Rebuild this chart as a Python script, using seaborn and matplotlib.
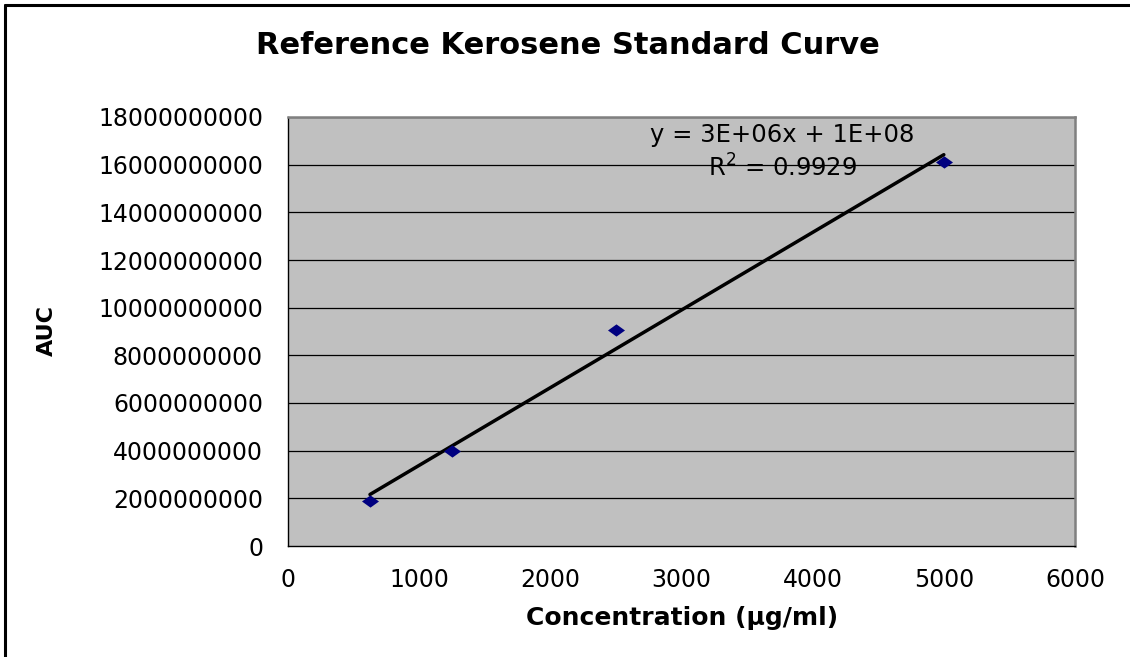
import numpy as np
import pandas as pd
import matplotlib
matplotlib.use("Agg")
import matplotlib.pyplot as plt
from matplotlib.path import Path
from matplotlib.lines import Line2D
import seaborn as sns

# Kerosene standard: concentration (µg/ml) vs. peak area
concentration = [625, 1250, 2500, 5000]
auc = [1.89e9, 3.99e9, 9.06e9, 1.611e10]

x_ticks = [0, 1000, 2000, 3000, 4000, 5000, 6000]
y_ticks = [0, 2e9, 4e9, 6e9, 8e9, 1e10, 1.2e10, 1.4e10, 1.6e10, 1.8e10]

title = "Reference Kerosene Standard Curve"
x_label = "Concentration (µg/ml)"
y_label = "AUC"
equation = "y = 3E+06x + 1E+08"
r_squared = "R$^2$ = 0.9929"

df = pd.DataFrame({"conc": concentration, "auc": auc})

sns.set_theme(style="white")
plt.rcParams["font.family"] = ["DejaVu Sans"]
plt.rcParams["mathtext.fontset"] = "dejavusans"
plt.rcParams["text.color"] = "black"

fig = plt.figure(figsize=(11.30, 6.57), dpi=100)
ax = fig.add_axes([288 / 1130, 1 - 546 / 657, (1075 - 288) / 1130, (546 - 117) / 657])
ax.set_facecolor("#C0C0C0")

# squashed diamond marker
diamond = Path([(-1, 0), (0, 0.72), (1, 0), (0, -0.72), (-1, 0)],
               [Path.MOVETO, Path.LINETO, Path.LINETO, Path.LINETO, Path.CLOSEPOLY])

for yv in y_ticks[1:]:
    ax.axhline(yv, color="black", lw=0.9, zorder=0.5)

sns.regplot(data=df, x="conc", y="auc", ax=ax, scatter=False, ci=None,
            truncate=True, line_kws={"color": "black", "lw": 2.5, "zorder": 2})
sns.scatterplot(data=df, x="conc", y="auc", ax=ax, marker=diamond, s=150,
                color="#000080", edgecolor="#000080", linewidth=0, zorder=3)

ax.set_xlim(0, 6000)
ax.set_ylim(0, 1.8e10)
ax.set_xticks(x_ticks)
ax.set_yticks(y_ticks)
ax.set_xticklabels([str(v) for v in x_ticks])
ax.set_yticklabels([f"{int(v)}" for v in y_ticks])
ax.tick_params(axis="both", labelsize=17, colors="black", direction="out")
ax.tick_params(axis="y", length=7, width=1, pad=11)
ax.tick_params(axis="x", length=5, width=1, pad=11)
ax.set_xlabel("")
ax.set_ylabel("")

for side in ["top", "right"]:
    ax.spines[side].set_color("#808080")
    ax.spines[side].set_linewidth(1.8)
for side in ["left", "bottom"]:
    ax.spines[side].set_color("black")
    ax.spines[side].set_linewidth(1.0)

ax.text(0.628, 0.958, equation, transform=ax.transAxes, ha="center", va="center",
        fontsize=17.5, color="black")
ax.text(0.628, 0.880, r_squared, transform=ax.transAxes, ha="center", va="center",
        fontsize=17.5, color="black")

fig.text(568 / 1130, 1 - 45 / 657, title, ha="center", va="center",
         fontsize=22, fontweight="bold", color="black")
fig.text(682 / 1130, 1 - 618 / 657, x_label, ha="center", va="center",
         fontsize=18, fontweight="bold", color="black")
fig.text(47 / 1130, 1 - 331 / 657, y_label, ha="center", va="center",
         fontsize=16, fontweight="bold", rotation=90, color="black")

# outer frame along the top and left edges
fig.add_artist(Line2D([5 / 1130, 1.0], [1 - 5 / 657, 1 - 5 / 657],
                      transform=fig.transFigure, color="black", lw=2.2))
fig.add_artist(Line2D([5 / 1130, 5 / 1130], [0.0, 1 - 5 / 657],
                      transform=fig.transFigure, color="black", lw=2.2))

fig.savefig("out.png", dpi=100, facecolor="white")
